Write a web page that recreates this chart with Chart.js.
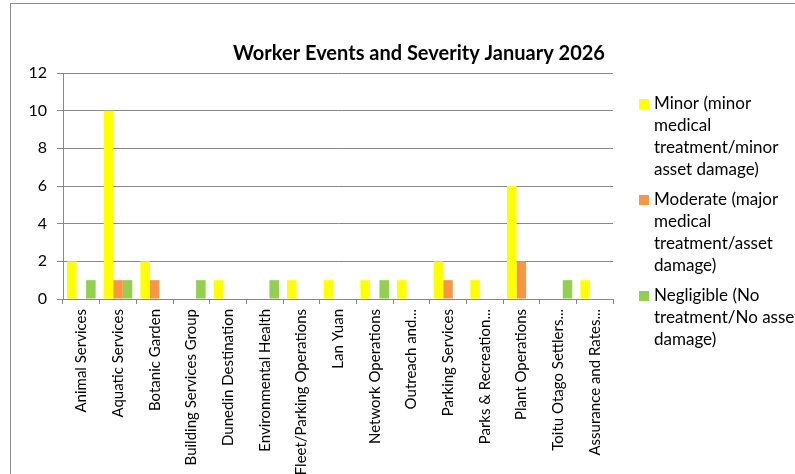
<!DOCTYPE html>
<html>
<head>
<meta charset="utf-8">
<title>Worker Events and Severity January 2026</title>
<script src="https://cdn.jsdelivr.net/npm/chart.js@4.4.1/dist/chart.umd.min.js"></script>
<style>
  html, body { margin: 0; padding: 0; background: #fff; overflow: hidden; }
  #frame { position: absolute; left: 10px; top: 3px; width: 816px; height: 480px; border: 1px solid #8c8c8c; }
  canvas { display: block; }
</style>
</head>
<body>
<div id="frame"><canvas id="chart" width="816" height="480"></canvas></div>
<script>
// Departments (long names are shortened as in the source report)
const categories = [
  'Animal Services', 'Aquatic Services', 'Botanic Garden', 'Building Services Group',
  'Dunedin Destination', 'Environmental Health', 'Fleet/Parking Operations', 'Lan Yuan',
  'Network Operations', 'Outreach and...', 'Parking Services', 'Parks & Recreation...',
  'Plant Operations', 'Toitu Otago Settlers...', 'Assurance and Rates...'
];

// Event counts per severity
const minor      = [2, 10, 2, 0, 1, 0, 1, 1, 1, 1, 2, 1, 6, 0, 1];
const moderate   = [0, 1, 1, 0, 0, 0, 0, 0, 0, 0, 1, 0, 2, 0, 0];
const negligible = [1, 1, 0, 1, 0, 1, 0, 0, 1, 0, 0, 0, 0, 1, 0];

const seriesNames = [
  'Minor (minor medical treatment/minor asset damage)',
  'Moderate (major medical treatment/asset damage)',
  'Negligible (No treatment/No asset damage)'
];
// legend text broken into lines
const legendLines = [
  ['Minor (minor', 'medical', 'treatment/minor', 'asset damage)'],
  ['Moderate (major', 'medical', 'treatment/asset', 'damage)'],
  ['Negligible (No', 'treatment/No asset', 'damage)']
];
const seriesColors = ['#ffff00', '#f79646', '#92d050'];

const chartTitle = 'Worker Events and Severity January 2026';
const yMin = 0, yMax = 12, yStep = 2;

const FONT = 'Lato, "Open Sans", sans-serif';
const GRID = '#888888';

// title centred over the whole frame, legend to the right of the plot
const frameText = {
  id: 'frameText',
  afterDraw(chart) {
    const { ctx, chartArea, width } = chart;
    ctx.save();
    ctx.fillStyle = '#000';
    ctx.textBaseline = 'middle';
    ctx.textAlign = 'center';
    ctx.font = 'bold 20px ' + FONT;
    ctx.fillText(chartTitle, width / 2, 50);

    const x = chartArea.right + 26;
    let y = chartArea.top + 31;
    ctx.font = '17px ' + FONT;
    ctx.textAlign = 'left';
    chart.data.datasets.forEach((ds, i) => {
      ctx.fillStyle = ds.backgroundColor;
      ctx.fillRect(x, y - 5, 10, 10);
      ctx.fillStyle = '#000';
      legendLines[i].forEach((line, j) => ctx.fillText(line, x + 15, y + j * 21.7));
      y += 96;
    });
    ctx.restore();
  }
};

new Chart(document.getElementById('chart'), {
  type: 'bar',
  data: {
    labels: categories,
    datasets: [
      { label: seriesNames[0], data: minor, backgroundColor: seriesColors[0] },
      { label: seriesNames[1], data: moderate, backgroundColor: seriesColors[1] },
      { label: seriesNames[2], data: negligible, backgroundColor: seriesColors[2] }
    ]
  },
  options: {
    responsive: false,
    animation: false,
    devicePixelRatio: 1,
    categoryPercentage: 0.78,
    barPercentage: 1,
    layout: { padding: { left: 0, right: 214, top: 69, bottom: 0 } },
    plugins: {
      legend: { display: false },
      tooltip: { enabled: false },
      title: { display: false }
    },
    scales: {
      x: {
        grid: { display: true, drawOnChartArea: false, drawTicks: true, tickLength: 5, color: GRID, offset: true },
        border: { display: true, color: GRID, width: 1 },
        ticks: {
          color: '#000',
          font: { family: FONT, size: 15 },
          minRotation: 90,
          maxRotation: 90,
          autoSkip: false,
          padding: 5
        },
        afterFit(scale) { scale.height = 480 - 295; }
      },
      y: {
        min: yMin,
        max: yMax,
        grid: { color: GRID, lineWidth: 1, tickLength: 6 },
        border: { display: true, color: GRID, width: 1 },
        ticks: {
          stepSize: yStep,
          color: '#000',
          font: { family: FONT, size: 16 },
          padding: 10
        },
        afterFit(scale) { scale.width = 52; }
      }
    }
  },
  plugins: [frameText]
});
</script>
</body>
</html>
